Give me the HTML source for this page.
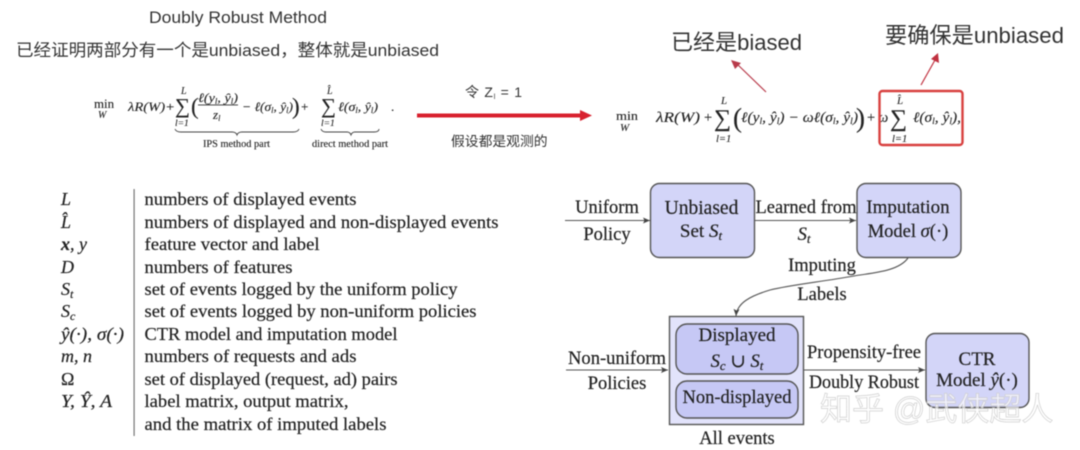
<!DOCTYPE html>
<html><head><meta charset="utf-8"><style>
html,body{margin:0;padding:0;background:#fff;width:1080px;height:450px;overflow:hidden}
svg{display:block;filter:blur(.45px)}
.sa{font-family:"Liberation Sans","Noto Sans CJK SC",sans-serif;fill:#333}
.se{font-family:"Liberation Serif","DejaVu Serif",serif;fill:#222;stroke:#222;stroke-width:.2}
.i{font-style:italic}
.d{font-family:"Liberation Serif","DejaVu Serif",serif;fill:#222;stroke:#222;stroke-width:.2;font-size:18.5px}
.m{text-anchor:middle}
.f{font-family:"Liberation Serif","DejaVu Serif",serif;fill:#222;stroke:#222;stroke-width:.12}
.box{fill:#d3d5f8;stroke:#555;stroke-width:1.4}
</style></head><body>
<svg width="1080" height="450" viewBox="0 0 1080 450" xmlns="http://www.w3.org/2000/svg">
<defs>
<marker id="a" markerWidth="8" markerHeight="6" refX="7" refY="3" orient="auto" markerUnits="userSpaceOnUse"><path d="M0 0L7 3L0 6L1.5 3z" fill="#444"/></marker>
</defs>
<!-- header -->
<text class="sa" x="149" y="23" font-size="17" textLength="178" lengthAdjust="spacingAndGlyphs">Doubly Robust Method</text>
<text class="sa" x="16" y="56" font-size="17" textLength="423" lengthAdjust="spacingAndGlyphs">已经证明两部分有一个是unbiased，整体就是unbiased</text>
<!-- left formula -->
<g class="f" font-size="13">
<text x="94" y="108" font-size="12.500" textLength="20" lengthAdjust="spacingAndGlyphs">min</text>
<text x="98" y="118" font-size="10" class="i">W</text>
<text x="128" y="111" class="i" font-size="13" textLength="47" lengthAdjust="spacingAndGlyphs">λR(W)+</text>
<text x="175" y="113" font-size="21">∑</text>
<text x="181" y="94" class="i" font-size="10">L</text>
<text x="175" y="126" font-size="9.500" class="i">l=1</text>
<text x="191" y="114" font-size="23">(</text>
<text x="198" y="102" class="i" font-size="13" textLength="40" lengthAdjust="spacingAndGlyphs">ℓ(y<tspan font-size="8" dy="2">l</tspan><tspan dy="-2">, ŷ</tspan><tspan font-size="8" dy="2">l</tspan><tspan dy="-2">)</tspan></text>
<rect x="198" y="104.500" width="40" height=".9" fill="#333" stroke="none"/>
<text x="213" y="119" class="i" font-size="13">z<tspan font-size="8" dy="2">l</tspan></text>
<text x="242" y="111" class="i" font-size="13" textLength="51" lengthAdjust="spacingAndGlyphs">− ℓ(σ<tspan font-size="8" dy="2">l</tspan><tspan dy="-2">, ŷ</tspan><tspan font-size="8" dy="2">l</tspan><tspan dy="-2">)</tspan></text>
<text x="292" y="114" font-size="23">)</text>
<text x="301" y="111" font-size="13">+</text>
<text x="321" y="113" font-size="21">∑</text>
<text x="327" y="94" class="i" font-size="10">L̂</text>
<text x="321" y="126" font-size="9.500" class="i">l=1</text>
<text x="338" y="111" class="i" font-size="13" textLength="40" lengthAdjust="spacingAndGlyphs">ℓ(σ<tspan font-size="8" dy="2">l</tspan><tspan dy="-2">, ŷ</tspan><tspan font-size="8" dy="2">l</tspan><tspan dy="-2">)</tspan></text>
<text x="391" y="111">.</text>
<text x="203" y="147" font-size="10" textLength="67" lengthAdjust="spacingAndGlyphs">IPS method part</text>
<text x="312" y="147" font-size="10" textLength="76" lengthAdjust="spacingAndGlyphs">direct method part</text>
</g>
<path d="M175 129q1 3 6 3H232q4 0 5 3q1-3 5-3H293q5 0 6-3" fill="none" stroke="#444" stroke-width=".9"/>
<path d="M321 129q1 3 5 3H347q3 0 4 3q1-3 4-3H374q5 0 5-3" fill="none" stroke="#444" stroke-width=".9"/>
<!-- middle arrow -->
<text class="sa" x="465" y="97" font-size="14" textLength="57">令 Z<tspan font-size="7" dy="2">l</tspan><tspan dy="-2"> = 1</tspan></text>
<rect x="417" y="113.500" width="165" height="4" fill="#d8202e"/>
<path d="M580 110L592 115.500L580 121z" fill="#d8202e"/>
<text class="sa" x="451" y="146" font-size="13.800">假设都是观测的</text>
<!-- right labels -->
<text class="sa" x="671" y="50" font-size="22" textLength="131" lengthAdjust="spacingAndGlyphs">已经是biased</text>
<text class="sa" x="885" y="43" font-size="22" textLength="179" lengthAdjust="spacingAndGlyphs">要确保是unbiased</text>
<path d="M766 92L737 64" stroke="#b83a4a" stroke-width="1.200"/><path d="M731 60L741 63L735 69z" fill="#b83a4a"/>
<path d="M921 85L935 60" stroke="#c0303f" stroke-width="1.200"/><path d="M938 53L939 63L931 59z" fill="#c0303f"/>
<!-- right formula -->
<g class="f" font-size="14.500">
<text x="616" y="120" font-size="12.500" textLength="22" lengthAdjust="spacingAndGlyphs">min</text>
<text x="620" y="131" font-size="11" class="i">W</text>
<text x="656" y="122" class="i" textLength="44" lengthAdjust="spacingAndGlyphs">λR(W)</text>
<text x="704" y="122">+</text>
<text x="714" y="126" font-size="24">∑</text>
<text x="721" y="104" class="i" font-size="11">L</text>
<text x="716" y="142" font-size="10.500" class="i">l=1</text>
<text x="733" y="127" font-size="27">(</text>
<text x="741" y="122" class="i" textLength="117" lengthAdjust="spacingAndGlyphs">ℓ(y<tspan font-size="9" dy="2">l</tspan><tspan dy="-2">, ŷ</tspan><tspan font-size="9" dy="2">l</tspan><tspan dy="-2">) − ωℓ(σ</tspan><tspan font-size="9" dy="2">l</tspan><tspan dy="-2">, ŷ</tspan><tspan font-size="9" dy="2">l</tspan><tspan dy="-2">)</tspan></text>
<text x="856" y="127" font-size="27">)</text>
<text x="867" y="122">+</text>
<text x="878" y="122" class="i">ω</text>
<text x="890" y="126" font-size="24">∑</text>
<text x="897" y="104" class="i" font-size="11">L̂</text>
<text x="892" y="142" font-size="10.500" class="i">l=1</text>
<text x="913" y="122" class="i" textLength="48" lengthAdjust="spacingAndGlyphs">ℓ(σ<tspan font-size="9" dy="2">l</tspan><tspan dy="-2">, ŷ</tspan><tspan font-size="9" dy="2">l</tspan><tspan dy="-2">),</tspan></text>
</g>
<rect x="879.500" y="91" width="83" height="54" rx="3" fill="none" stroke="#d8403f" stroke-width="2.400"/>
<!-- notation table -->
<g class="se" font-size="18">
<g class="i">
<text x="61" y="205">L</text>
<text x="61" y="228">L̂</text>
<text x="61" y="250"><tspan font-weight="bold">x</tspan>, y</text>
<text x="61" y="273">D</text>
<text x="61" y="295">S<tspan font-size="12" dy="3">t</tspan></text>
<text x="61" y="317">S<tspan font-size="12" dy="3">c</tspan></text>
<text x="61" y="340" textLength="63" lengthAdjust="spacingAndGlyphs">ŷ(·), σ(·)</text>
<text x="61" y="362">m, n</text>
<text x="61" y="385" font-style="normal">Ω</text>
<text x="61" y="407" textLength="51" lengthAdjust="spacingAndGlyphs">Y, Ŷ, A</text>
</g>
<text x="144.500" y="205" textLength="212" lengthAdjust="spacingAndGlyphs">numbers of displayed events</text>
<text x="144.500" y="228" textLength="354" lengthAdjust="spacingAndGlyphs">numbers of displayed and non-displayed events</text>
<text x="144.500" y="250" textLength="175" lengthAdjust="spacingAndGlyphs">feature vector and label</text>
<text x="144.500" y="273" textLength="148" lengthAdjust="spacingAndGlyphs">numbers of features</text>
<text x="144.500" y="295" textLength="313" lengthAdjust="spacingAndGlyphs">set of events logged by the uniform policy</text>
<text x="144.500" y="317" textLength="332" lengthAdjust="spacingAndGlyphs">set of events logged by non-uniform policies</text>
<text x="144.500" y="340" textLength="253" lengthAdjust="spacingAndGlyphs">CTR model and imputation model</text>
<text x="144.500" y="362" textLength="212" lengthAdjust="spacingAndGlyphs">numbers of requests and ads</text>
<text x="144.500" y="385" textLength="253" lengthAdjust="spacingAndGlyphs">set of displayed (request, ad) pairs</text>
<text x="144.500" y="407" textLength="204" lengthAdjust="spacingAndGlyphs">label matrix, output matrix,</text>
<text x="144.500" y="430" textLength="242" lengthAdjust="spacingAndGlyphs">and the matrix of imputed labels</text>
</g>
<rect x="133.500" y="189" width="1.200" height="247" fill="#777"/>
<!-- flow diagram boxes -->
<rect class="box" x="650.500" y="183.500" width="104" height="74" rx="9"/>
<rect class="box" x="857" y="183.500" width="104" height="74" rx="9"/>
<rect x="669.500" y="316.500" width="134" height="108" fill="#e2e3fb" stroke="#555" stroke-width="1.400"/>
<rect x="676" y="324" width="122" height="50" rx="11" fill="#c6c8f5" stroke="#555" stroke-width="1.400"/>
<rect x="676" y="381" width="122" height="37" rx="11" fill="#c6c8f5" stroke="#555" stroke-width="1.400"/>
<rect class="box" x="926" y="333.500" width="103" height="74" rx="9"/>
<!-- connectors -->
<path d="M565 220.500H650" stroke="#555" stroke-width="1.100" marker-end="url(#a)"/>
<path d="M755 220.500H856" stroke="#555" stroke-width="1.100" marker-end="url(#a)"/>
<path d="M566 370H668" stroke="#555" stroke-width="1.100" marker-end="url(#a)"/>
<path d="M804 370H925" stroke="#555" stroke-width="1.100" marker-end="url(#a)"/>
<path d="M908 258C898 272 870 273 854 276C820 282 790 285 770 290C750 296 737 303 736 316" fill="none" stroke="#555" stroke-width="1.100" marker-end="url(#a)"/>
<!-- flow labels -->
<g>
<text class="d m" x="607" y="213">Uniform</text>
<text class="d m" x="607" y="240">Policy</text>
<text class="d m" x="701.500" y="214" style="font-size:19.500px">Unbiased</text>
<text class="d m" x="701" y="237" style="font-size:19px">Set <tspan class="i">S</tspan><tspan class="i" font-size="13" dy="3">t</tspan></text>
<text class="d m" x="806" y="213" textLength="101" lengthAdjust="spacingAndGlyphs">Learned from</text>
<text class="d m i" x="804" y="240">S<tspan font-size="13" dy="3">t</tspan></text>
<text class="d m" x="908" y="213" style="font-size:19px">Imputation</text>
<text class="d m" x="908" y="237">Model <tspan class="i">σ</tspan>(·)</text>
<text class="d m" x="822" y="271">Imputing</text>
<text class="d m" x="822" y="300">Labels</text>
<text class="d m" x="617" y="364" textLength="98" lengthAdjust="spacingAndGlyphs">Non-uniform</text>
<text class="d m" x="617" y="389">Policies</text>
<text class="d m" x="737" y="341" style="font-size:19px">Displayed</text>
<text class="d m" x="737" y="367"><tspan class="i">S</tspan><tspan class="i" font-size="13" dy="3">c</tspan><tspan dy="-3"> ∪ </tspan><tspan class="i">S</tspan><tspan class="i" font-size="13" dy="3">t</tspan></text>
<text class="d m" x="737" y="403" textLength="109" lengthAdjust="spacingAndGlyphs">Non-displayed</text>
<text class="d m" x="737" y="444">All events</text>
<text class="d m" x="864" y="358" textLength="114" lengthAdjust="spacingAndGlyphs">Propensity-free</text>
<text class="d m" x="864" y="388" textLength="110" lengthAdjust="spacingAndGlyphs">Doubly Robust</text>
<text class="d m" x="977" y="365" style="font-size:19px">CTR</text>
<text class="d m" x="977" y="386" style="font-size:19px">Model <tspan class="i">ŷ</tspan>(·)</text>
</g>
<!-- watermark -->
<text x="820" y="420" font-size="32" font-family="'Liberation Sans','Noto Sans CJK SC',sans-serif" fill="#fff" fill-opacity=".65" stroke="#cfcfcf" stroke-width=".7">知乎 @武侠超人</text>
</svg>
</body></html>
